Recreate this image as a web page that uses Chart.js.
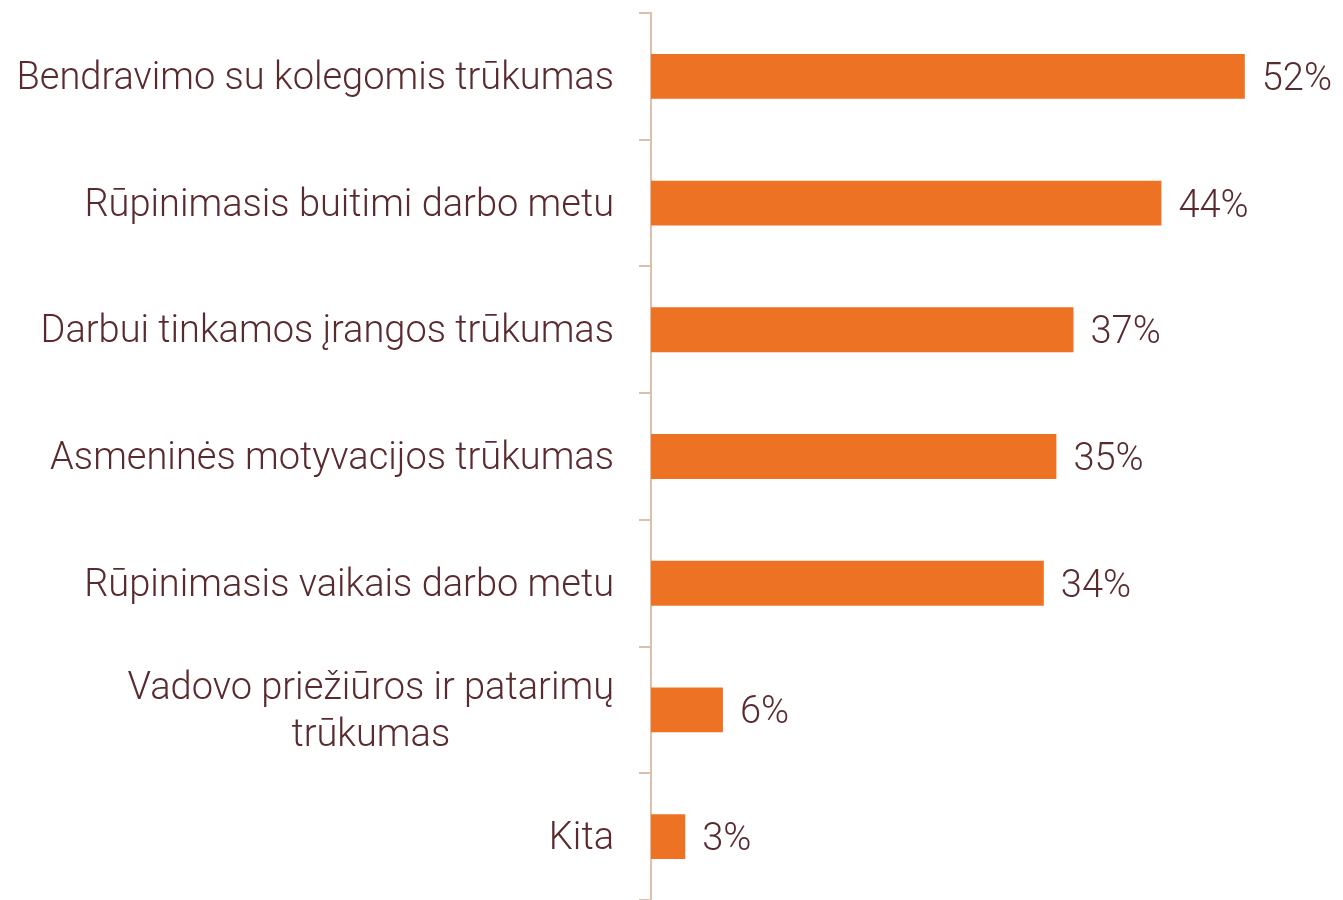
<!DOCTYPE html>
<html>
<head>
<meta charset="utf-8">
<script src="https://cdn.jsdelivr.net/npm/chart.js@4.4.1/dist/chart.umd.min.js"></script>
<style>
  html, body { margin: 0; padding: 0; background: #fff; }
  #wrap { width: 1343px; height: 900px; }
</style>
</head>
<body>
<div id="wrap"><canvas id="barChart" width="1343" height="900"></canvas></div>
<script>
// data
const categories = [
  'Bendravimo su kolegomis trūkumas',
  'Rūpinimasis buitimi darbo metu',
  'Darbui tinkamos įrangos trūkumas',
  'Asmeninės motyvacijos trūkumas',
  'Rūpinimasis vaikais darbo metu',
  ['Vadovo priežiūros ir patarimų', 'trūkumas'],
  'Kita'
];
const shares = [52, 44.7, 37, 35.5, 34.4, 6.3, 3];
const shareLabels = ['52%', '44%', '37%', '35%', '34%', '6%', '3%'];

const textColor = '#5a2b2e';
const axisColor = '#dcc0ac';
const fontFamily = 'Roboto';
const fontSize = 38;

// draws category names (block right aligned, lines centred) and value labels
const labelPlugin = {
  id: 'labelPlugin',
  afterDatasetsDraw(chart) {
    const c = chart.ctx;
    const y = chart.scales.y;
    c.save();
    c.font = '300 ' + fontSize + 'px ' + fontFamily;
    c.fillStyle = textColor;
    c.textBaseline = 'middle';
    const lineH = 47;
    categories.forEach((cat, i) => {
      const lines = Array.isArray(cat) ? cat : [cat];
      const widths = lines.map(l => c.measureText(l).width);
      const blockW = Math.max(...widths);
      const right = y.right - 37;
      const cy = y.getPixelForValue(i) + 3;
      lines.forEach((l, k) => {
        const ly = cy + (k - (lines.length - 1) / 2) * lineH;
        c.textAlign = 'center';
        c.fillText(l, right - blockW / 2, ly);
      });
    });
    const meta = chart.getDatasetMeta(0);
    c.textAlign = 'left';
    meta.data.forEach((bar, i) => {
      c.fillText(shareLabels[i], bar.x + 17, bar.y + 4);
    });
    c.restore();
  }
};

new Chart(document.getElementById('barChart').getContext('2d'), {
  type: 'bar',
  data: {
    labels: categories,
    datasets: [{
      data: shares,
      backgroundColor: '#ee7223',
      borderWidth: 0,
      barPercentage: 0.354,
      categoryPercentage: 1
    }]
  },
  options: {
    indexAxis: 'y',
    responsive: false,
    animation: false,
    layout: { padding: { top: 13, right: 0, bottom: 0, left: 0 } },
    plugins: { legend: { display: false }, tooltip: { enabled: false } },
    scales: {
      x: { display: false, min: 0, max: 60.6 },
      y: {
        offset: true,
        afterFit(scale) { scale.width = 651; },
        grid: {
          offset: true,
          drawOnChartArea: false,
          drawTicks: true,
          tickLength: 12,
          color: axisColor,
          lineWidth: 2
        },
        border: { display: true, color: axisColor, width: 2 },
        ticks: { display: false }
      }
    }
  },
  plugins: [labelPlugin]
});
</script>
</body>
</html>
